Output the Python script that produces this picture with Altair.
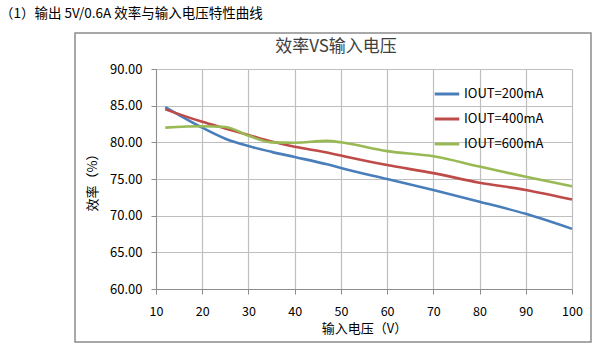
import altair as alt
import pandas as pd

caption = "（1）输出 5V/0.6A 效率与输入电压特性曲线"
chart_title = "效率VS输入电压"
x_title = "输入电压（V）"
y_title = "效率（%）"

series_names = ["IOUT=200mA", "IOUT=400mA", "IOUT=600mA"]
series_colors = ["#4A7EBB", "#BE4B48", "#98B954"]

vin = [12, 20, 25, 30, 35, 40, 47, 50, 60, 70, 80, 90, 100]
eff_200 = [84.8, 82.0, 80.5, 79.5, 78.7, 78.0, 77.0, 76.5, 75.0, 73.5, 71.9, 70.25, 68.2]
eff_400 = [84.5, 82.8, 81.9, 81.0, 80.1, 79.4, 78.6, 78.2, 76.9, 75.8, 74.5, 73.5, 72.2]
eff_600 = [82.0, 82.2, 82.1, 80.9, 80.0, 79.95, 80.2, 80.0, 78.8, 78.1, 76.7, 75.3, 74.0]

x_ticks = [10, 20, 30, 40, 50, 60, 70, 80, 90, 100]
y_ticks = [60, 65, 70, 75, 80, 85, 90]

rows = []
for name, vals in zip(series_names, [eff_200, eff_400, eff_600]):
    for v, e in zip(vin, vals):
        rows.append({"vin": v, "eff": e, "series": name})
df = pd.DataFrame(rows)

FONT = "Noto Sans CJK SC"
W, H = 416, 220
LEFT, TOP = 156, 69

lines = alt.Chart(df).mark_line(strokeWidth=2.6, interpolate="monotone").encode(
    x=alt.X("vin:Q", scale=alt.Scale(domain=[10, 100], nice=False),
            axis=alt.Axis(values=x_ticks, title=x_title, format="d",
                          labelFlush=False)),
    y=alt.Y("eff:Q", scale=alt.Scale(domain=[60, 90], nice=False, zero=False),
            axis=alt.Axis(values=y_ticks, title=y_title, format=".2f",
                          labelFlush=False)),
    color=alt.Color("series:N",
                    scale=alt.Scale(domain=series_names, range=series_colors),
                    legend=alt.Legend(orient="none", legendX=277, legendY=11,
                                      title=None, symbolType="stroke",
                                      symbolStrokeWidth=3, symbolSize=600,
                                      labelFontSize=13, labelFont=FONT,
                                      labelColor="#000000", labelOffset=3,
                                      rowPadding=4)),
    order=alt.Order("vin:Q"),
)

box = alt.Chart(pd.DataFrame({"b": [0]})).mark_rect(
    fillOpacity=0, stroke="#8c8c8c", strokeWidth=1.5, clip=False
).encode(
    x=alt.value(75 - LEFT), x2=alt.value(591 - LEFT),
    y=alt.value(33 - TOP), y2=alt.value(342 - TOP),
)

cap = alt.Chart(pd.DataFrame({"t": [caption]})).mark_text(
    align="left", baseline="middle", fontSize=13.5, font=FONT, color="#000000"
).encode(text="t:N", x=alt.value(0 - LEFT), y=alt.value(14 - TOP))

ttl = alt.Chart(pd.DataFrame({"t": [chart_title]})).mark_text(
    align="center", baseline="middle", fontSize=17, font=FONT, color="#404040"
).encode(text="t:N", x=alt.value(336 - LEFT), y=alt.value(47 - TOP))

chart = alt.layer(box, lines, cap, ttl).properties(
    width=W, height=H,
    padding={"left": LEFT, "top": TOP, "right": 611 - LEFT - W, "bottom": 352 - TOP - H},
    autosize=alt.AutoSizeParams(type="none"),
    background="white",
).configure_view(stroke=None).configure_axis(
    domainColor="#8c8c8c", domainWidth=1, gridColor="#bfbfbf", gridWidth=1.2,
    tickColor="#8c8c8c", tickSize=5, labelFont=FONT, labelFontSize=13,
    labelColor="#000000", titleFont=FONT, titleFontSize=13,
    titleColor="#000000", titleFontWeight="normal",
).configure_axisX(labelPadding=11, titlePadding=5, labelFontSize=12.5).configure_axisY(
    labelPadding=9, titlePadding=10
)

chart.save("out.html", embed_options={"renderer": "svg", "actions": False})
